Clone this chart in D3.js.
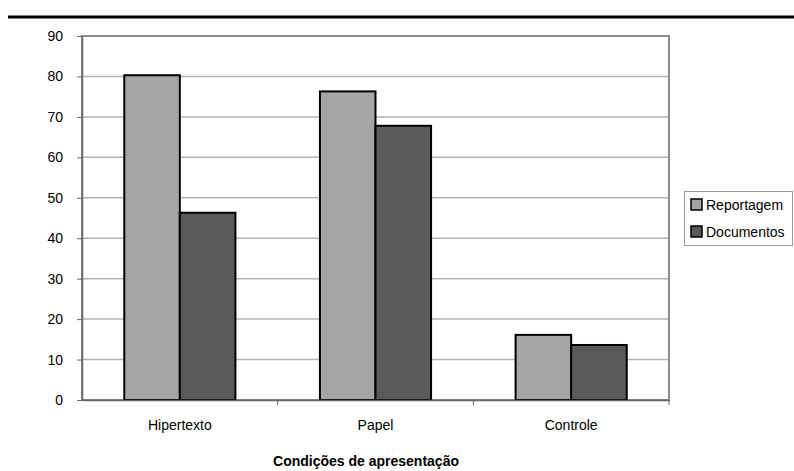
<!DOCTYPE html>
<html>
<head>
<meta charset="utf-8">
<script src="https://cdn.jsdelivr.net/npm/d3@7"></script>
<style>
  html, body { margin: 0; padding: 0; background: #fff; }
  svg { display: block; }
  text { font-family: "Liberation Sans", Arial, sans-serif; }
</style>
</head>
<body>
<svg id="chart" width="794" height="471"></svg>
<script>
// Percent values per presentation condition
const categories = ["Hipertexto", "Papel", "Controle"];
const seriesNames = ["Reportagem", "Documentos"];
const reportagem = [80.3, 76.3, 16.1];
const documentos = [46.3, 67.8, 13.6];
const yTicks = [0, 10, 20, 30, 40, 50, 60, 70, 80, 90];
const xTitle = "Condições de apresentação";

const colors = ["#a5a5a5", "#5a5a5a"];

const svg = d3.select("#chart");
const W = 794, H = 471;
const plot = { left: 82, right: 669, top: 36, bottom: 400 };

// header rule
svg.append("line")
  .attr("x1", 8).attr("x2", W).attr("y1", 17).attr("y2", 17)
  .attr("stroke", "#000").attr("stroke-width", 3);

const x0 = d3.scaleBand().domain(categories)
  .range([plot.left, plot.right]).paddingInner(0).paddingOuter(0);
const groupPad = 0.216;
const x1 = d3.scaleBand().domain(seriesNames)
  .range([x0.bandwidth() * groupPad, x0.bandwidth() * (1 - groupPad)]);
const y = d3.scaleLinear().domain([0, 90]).range([plot.bottom, plot.top]);

// gridlines
svg.append("g").selectAll("line").data(yTicks.filter(d => d > 0 && d < 90)).join("line")
  .attr("x1", plot.left).attr("x2", plot.right)
  .attr("y1", d => y(d)).attr("y2", d => y(d))
  .attr("stroke", "#b4b4b4").attr("stroke-width", 1.5);

// plot frame
svg.append("rect")
  .attr("x", plot.left).attr("y", plot.top)
  .attr("width", plot.right - plot.left).attr("height", plot.bottom - plot.top)
  .attr("fill", "none").attr("stroke", "#8c8c8c").attr("stroke-width", 2);

// bars
const rows = categories.map((c, i) => ({ cat: c, vals: [reportagem[i], documentos[i]] }));
const groups = svg.append("g").selectAll("g").data(rows).join("g")
  .attr("transform", d => `translate(${x0(d.cat)},0)`);
groups.selectAll("rect")
  .data(d => d.vals.map((v, j) => ({ name: seriesNames[j], v, j })))
  .join("rect")
  .attr("x", d => x1(d.name))
  .attr("width", x1.bandwidth())
  .attr("y", d => y(d.v))
  .attr("height", d => y(0) - y(d.v))
  .attr("fill", d => colors[d.j])
  .attr("stroke", "#000").attr("stroke-width", 2);

// y axis
const yAxis = svg.append("g")
  .attr("transform", `translate(${plot.left},0)`)
  .call(d3.axisLeft(y).tickValues(yTicks).tickSize(5).tickPadding(14).tickSizeOuter(0));
yAxis.select(".domain").attr("stroke", "#666").attr("stroke-width", 1.5);
yAxis.selectAll(".tick line").attr("stroke", "#666").attr("stroke-width", 1);
yAxis.selectAll("text").style("font-size", "14px").attr("fill", "#000");

// x axis
const xAxis = svg.append("g")
  .attr("transform", `translate(0,${plot.bottom})`)
  .call(d3.axisBottom(x0).tickSize(0).tickPadding(20));
xAxis.select(".domain").attr("stroke", "#666").attr("stroke-width", 1.5);
xAxis.selectAll("text").style("font-size", "14px").attr("fill", "#000");
// category separators
svg.append("g").selectAll("line")
  .data(categories.slice(1).map(c => x0(c)).concat([plot.right]))
  .join("line")
  .attr("x1", d => d).attr("x2", d => d)
  .attr("y1", plot.bottom).attr("y2", plot.bottom + 5)
  .attr("stroke", "#666").attr("stroke-width", 1);

// axis title
svg.append("text")
  .attr("x", 366).attr("y", 466)
  .attr("text-anchor", "middle")
  .style("font-size", "14px").style("font-weight", "bold")
  .text(xTitle);

// legend
const lg = svg.append("g");
lg.append("rect")
  .attr("x", 684.5).attr("y", 191.5).attr("width", 108).attr("height", 54)
  .attr("fill", "#fff").attr("stroke", "#9a9a9a").attr("stroke-width", 1);
const items = lg.selectAll("g.item").data(seriesNames).join("g")
  .attr("class", "item")
  .attr("transform", (d, i) => `translate(691,${199 + i * 27})`);
items.append("rect")
  .attr("width", 11).attr("height", 11)
  .attr("fill", (d, i) => colors[i])
  .attr("stroke", "#000").attr("stroke-width", 1.5);
items.append("text")
  .attr("x", 15).attr("y", 11)
  .style("font-size", "14px")
  .text(d => d);
</script>
</body>
</html>
